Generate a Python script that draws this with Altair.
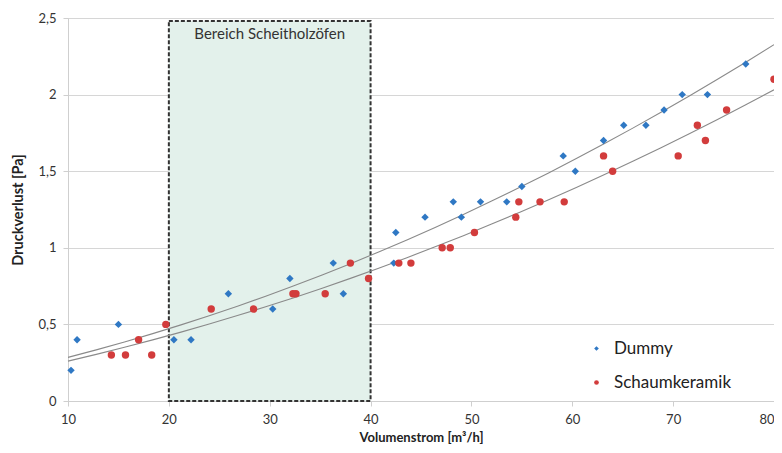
import altair as alt
import pandas as pd

dummy_x = [10.3, 10.9, 15.0, 20.5, 22.2, 25.9, 30.3, 32.0, 36.3, 37.3, 42.3, 42.5,
           45.4, 48.2, 49.0, 50.9, 53.5, 55.0, 59.1, 60.3, 63.1, 65.1, 67.3, 69.1,
           70.9, 73.4, 77.2]
dummy_y = [0.2, 0.4, 0.5, 0.4, 0.4, 0.7, 0.6, 0.8, 0.9, 0.7, 0.9, 1.1,
           1.2, 1.3, 1.2, 1.3, 1.3, 1.4, 1.6, 1.5, 1.7, 1.8, 1.8, 1.9,
           2.0, 2.0, 2.2]

schaum_x = [14.3, 15.7, 17.0, 18.3, 19.7, 24.2, 28.4, 32.3, 32.6, 35.5, 38.0, 39.8,
            42.8, 44.0, 47.1, 47.9, 50.3, 54.4, 54.7, 56.8, 59.2, 63.1, 64.0,
            70.5, 72.4, 73.2, 75.3, 80.0]
schaum_y = [0.3, 0.3, 0.4, 0.3, 0.5, 0.6, 0.6, 0.7, 0.7, 0.7, 0.9, 0.8,
            0.9, 0.9, 1.0, 1.0, 1.1, 1.2, 1.3, 1.3, 1.3, 1.6, 1.5,
            1.6, 1.8, 1.7, 1.9, 2.1]

series_names = ["Dummy", "Schaumkeramik"]
series_colors = ["#2f78c4", "#d23c3c"]
series_shapes = ["diamond", "circle"]

region_x = [20]
region_x2 = [40]
region_y = [0]
region_y2 = [2.48]
region_label = ["Bereich Scheitholzöfen"]

x_ticks = [10, 20, 30, 40, 50, 60, 70, 80]
y_ticks = [0, 0.5, 1, 1.5, 2, 2.5]

df = pd.DataFrame({
    "x": dummy_x + schaum_x,
    "y": dummy_y + schaum_y,
    "series": [series_names[0]] * len(dummy_x) + [series_names[1]] * len(schaum_x),
})
region = pd.DataFrame({"x": region_x, "x2": region_x2, "y": region_y,
                       "y2": region_y2, "label": region_label})

FONT = "Lato"

xscale = alt.Scale(domain=[10, 80], nice=False, zero=False)
yscale = alt.Scale(domain=[0, 2.5], nice=False)

xaxis = alt.Axis(values=x_ticks, title="Volumenstrom [m³/h]", grid=False,
                 domainColor="#cfcfcf", tickColor="#cfcfcf", tickSize=5,
                 labelFlush=False,
                 labelAlign={"expr": "datum.value == 80 ? 'right' : 'center'"},
                 labelFontSize=13, labelColor="#333333", labelPadding=7,
                 titleFontSize=13, titleFontWeight="bold", titleColor="#222222",
                 titlePadding=5, labelFont=FONT, titleFont=FONT)
yaxis = alt.Axis(values=y_ticks, title="Druckverlust [Pa]", grid=True,
                 gridColor="#d6d6d6", domainColor="#cfcfcf", tickColor="#cfcfcf",
                 tickSize=5, labelFlush=False,
                 labelExpr="replace(format(datum.value, '~g'), '.', ',')",
                 labelFontSize=13, labelColor="#333333", labelPadding=7,
                 titleFontSize=14.5, titleFontWeight="bold", titleColor="#222222",
                 titlePadding=12, labelFont=FONT, titleFont=FONT)

rect = alt.Chart(region).mark_rect(
    fill="#e3f1eb", stroke="#333333", strokeWidth=2, strokeDash=[4, 2]
).encode(
    x=alt.X("x:Q", scale=xscale, axis=xaxis),
    x2="x2:Q",
    y=alt.Y("y:Q", scale=yscale, axis=yaxis),
    y2="y2:Q",
)

label = alt.Chart(region).mark_text(
    font=FONT, fontSize=15, color="#333333", baseline="middle", dy=13
).transform_calculate(xm="(datum.x + datum.x2) / 2").encode(
    x=alt.X("xm:Q", scale=xscale),
    y=alt.Y("y2:Q", scale=yscale),
    text="label:N",
)

trend = alt.Chart(df).transform_regression(
    "x", "y", method="poly", order=2, groupby=["series"], extent=[10, 80]
).mark_line(color="#8a8a8a", strokeWidth=1.1).encode(
    x=alt.X("x:Q", scale=xscale),
    y=alt.Y("y:Q", scale=yscale),
    detail="series:N",
)

legend = alt.Legend(title=None, orient="none", legendX=520, legendY=322,
                    labelFontSize=17, labelFont=FONT, labelColor="#222222",
                    symbolSize=22, rowPadding=16, labelOffset=9)

points = alt.Chart(df).mark_point(filled=True, opacity=1, size=55).encode(
    x=alt.X("x:Q", scale=xscale),
    y=alt.Y("y:Q", scale=yscale),
    color=alt.Color("series:N", scale=alt.Scale(domain=series_names, range=series_colors),
                    legend=legend),
    shape=alt.Shape("series:N", scale=alt.Scale(domain=series_names, range=series_shapes),
                    legend=legend),
)

chart = alt.layer(rect, label, trend, points).properties(
    width=706, height=383,
    autosize=alt.AutoSizeParams(type="none"),
    padding={"left": 60, "top": 10, "right": 0, "bottom": 50},
).configure_view(stroke=None).configure(background="white")

chart.save("out.html", embed_options={"renderer": "svg", "actions": False})
